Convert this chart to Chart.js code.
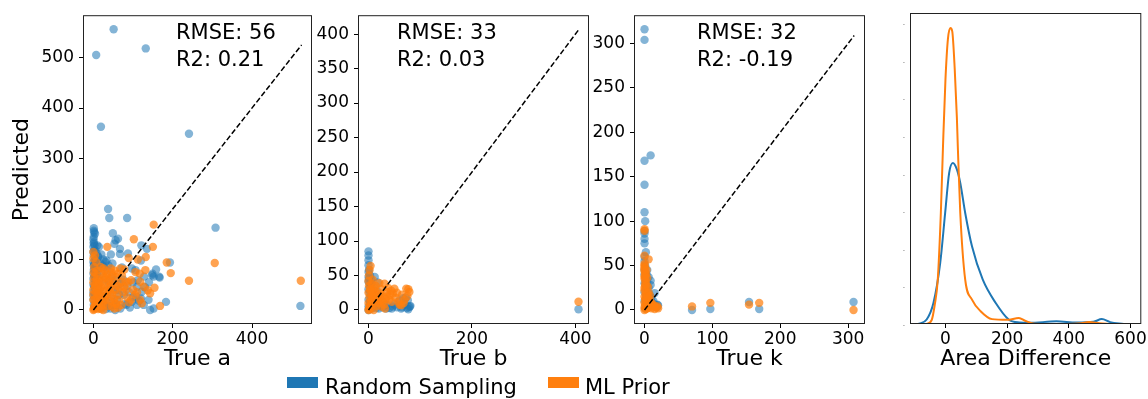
<!DOCTYPE html>
<html>
<head>
<meta charset="utf-8">
<script src="https://cdn.jsdelivr.net/npm/chart.js@4.4.0/dist/chart.umd.min.js"></script>
<style>
  body { margin: 0; background: #fff; width: 1148px; height: 399px; overflow: hidden; position: relative; font-family: "DejaVu Sans", sans-serif; }
  canvas { position: absolute; top: 0; }
  .caja { position: absolute; top: 377px; width: 31px; height: 11px; }
  .etiqueta { position: absolute; top: 377px; font-size: 21px; line-height: 21px; color: #000; white-space: nowrap; }
</style>
</head>
<body>
<canvas id="graf-a" width="318" height="372" style="left:0px"></canvas>
<canvas id="graf-b" width="295" height="372" style="left:300px"></canvas>
<canvas id="graf-k" width="281" height="372" style="left:590px"></canvas>
<canvas id="graf-area" width="278" height="372" style="left:870px"></canvas>

<div class="caja" style="left:287px; background:#1f77b4"></div>
<div class="etiqueta" style="left:325px">Random Sampling</div>
<div class="caja" style="left:548px; background:#ff7f0e"></div>
<div class="etiqueta" style="left:585px">ML Prior</div>

<script>
// Ticks de cada panel
const ticksXa = [0, 200, 400];
const ticksYa = [0, 100, 200, 300, 400, 500];
const ticksXb = [0, 200, 400];
const ticksYb = [0, 50, 100, 150, 200, 250, 300, 350, 400];
const ticksXk = [0, 100, 200, 300];
const ticksYk = [0, 50, 100, 150, 200, 250, 300];
const ticksXarea = [0, 200, 400, 600];
const ticksYarea = [0, 0.001, 0.002, 0.003, 0.004, 0.005, 0.006, 0.007, 0.008];

// Panel "a": [verdadero, predicho]
const aAleatorio = [
  [51, 556], [7, 505], [132, 518], [19, 363], [241, 349], [308, 163], [522, 8],
  [37, 200], [40, 182], [85, 182], [1, 162], [1, 157], [2, 154], [49, 152], [56, 138], [62, 141],
  [53, 131], [1, 134], [1, 131], [3, 128], [10, 128], [14, 125], [67, 121], [67, 111], [121, 128],
  [135, 121], [1, 108], [4, 98], [12, 104], [17, 92], [1, 79], [27, 85], [35, 79], [72, 84],
  [97, 82], [106, 79], [193, 94], [148, 69], [152, 66], [167, 64], [56, 59], [68, 52], [110, 46],
  [122, 36], [77, 30], [97, 16], [110, 10], [120, 23], [127, 10], [139, 20], [143, 0], [152, 3],
  [183, 16], [43, 3], [68, 3], [0, 115], [2, 90], [0, 72], [3, 66], [5, 60], [8, 55], [0, 50],
  [10, 45], [15, 40], [0, 35], [5, 30], [20, 28], [25, 20], [0, 20], [8, 12], [12, 5], [30, 8],
  [35, 15], [45, 25], [50, 40], [40, 50], [28, 60], [18, 70], [60, 20], [80, 12], [90, 35],
  [100, 55], [75, 60], [32, 2], [55, 0], [22, 88], [45, 65], [6, 75], [14, 83], [4, 151],
  [8, 112], [12, 106], [33, 98], [87, 112], [120, 98], [128, 66], [112, 59], [108, 26], [83, 10],
  [58, 10], [17, 4], [149, 72], [166, 66], [0, 140], [1, 145], [0, 125], [2, 118], [0, 95],
  [1, 88], [3, 82], [0, 62], [2, 45], [0, 28], [1, 10], [3, 5], [6, 90], [9, 70], [5, 118],
  [7, 100], [20, 110], [25, 100], [30, 95], [38, 88], [44, 110], [48, 92], [20, 5], [26, 12],
  [40, 8], [50, 10], [62, 40], [65, 30], [85, 48], [92, 5], [100, 25], [115, 18], [130, 45],
  [140, 55], [158, 80]
];
const aPrior = [
  [152, 169], [102, 140], [35, 125], [89, 103], [150, 125], [112, 100], [132, 105], [185, 94],
  [195, 73], [306, 93], [241, 58], [523, 58], [0, 115], [4, 108], [25, 82], [68, 82], [106, 75],
  [117, 72], [131, 79], [95, 59], [77, 46], [81, 56], [118, 56], [127, 46], [154, 44], [137, 39],
  [143, 33], [168, 8], [118, 20], [122, 13], [47, 7], [0, 0], [2, 5], [5, 10], [8, 15], [3, 20],
  [10, 25], [15, 30], [6, 35], [12, 40], [20, 45], [4, 50], [8, 55], [15, 60], [25, 65], [35, 70],
  [45, 75], [2, 65], [5, 72], [10, 78], [18, 85], [0, 40], [0, 30], [0, 20], [0, 55], [25, 10],
  [30, 20], [35, 30], [40, 40], [45, 50], [50, 55], [55, 40], [60, 30], [65, 20], [70, 10],
  [28, 50], [38, 58], [20, 35], [25, 0], [12, 2], [50, 15], [58, 65], [62, 72], [75, 35],
  [85, 25], [90, 15], [100, 40], [105, 30], [110, 35], [1, 2], [3, 8], [6, 4], [9, 9], [14, 12],
  [18, 6], [22, 15], [26, 22], [30, 28], [33, 38], [37, 45], [42, 35], [47, 30], [52, 22],
  [57, 12], [62, 5], [66, 45], [70, 55], [72, 68], [78, 80], [5, 45], [9, 62], [13, 52], [17, 42],
  [21, 56], [24, 72], [29, 78], [32, 64], [40, 62], [44, 82], [48, 68], [54, 78], [2, 85], [7, 95],
  [0, 102], [1, 75], [11, 32], [16, 20], [20, 2], [36, 8], [42, 18], [53, 3], [60, 48], [83, 40],
  [88, 55], [95, 20]
];

// Panel "b"
const bAleatorio = [
  [0, 85], [0, 79], [0, 72], [0, 65], [1, 58], [0, 48], [12, 48], [0, 41], [5, 38], [67, 17],
  [80, 5], [77, 1], [63, 2], [47, 5], [34, 2], [76, 14], [60, 14], [406, 1], [0, 30], [2, 25],
  [4, 20], [0, 15], [6, 10], [10, 5], [15, 3], [20, 2], [8, 30], [3, 35], [12, 18], [25, 6],
  [30, 10], [0, 5], [0, 0], [18, 12], [40, 3], [55, 4], [70, 8], [72, 18], [0, 55], [1, 45],
  [2, 40], [3, 50], [5, 44], [8, 22], [10, 12], [14, 8], [22, 20], [28, 4], [35, 8], [45, 2],
  [50, 8], [65, 4], [78, 4], [81, 6], [74, 3], [3, 12], [6, 2], [16, 28], [18, 40]
];
const bPrior = [
  [406, 12], [4, 64], [21, 39], [31, 38], [50, 31], [73, 31], [79, 26], [47, 24], [60, 8], [63, 7],
  [0, 0], [2, 4], [4, 8], [6, 12], [8, 16], [10, 20], [0, 25], [3, 30], [1, 35], [12, 28],
  [15, 22], [18, 15], [20, 10], [25, 5], [30, 8], [14, 35], [25, 30], [35, 20], [40, 15],
  [45, 12], [55, 25], [65, 22], [70, 15], [0, 10], [5, 2], [10, 0], [32, 2], [68, 10], [75, 20],
  [1, 1], [3, 6], [5, 14], [7, 20], [9, 26], [11, 32], [13, 10], [16, 6], [19, 18], [22, 24],
  [24, 14], [27, 20], [28, 12], [33, 16], [36, 26], [2, 18], [4, 28], [6, 38], [8, 44], [1, 50],
  [0, 42], [2, 58], [38, 32], [42, 22], [52, 18], [58, 12], [77, 30], [44, 28]
];

// Panel "k"
const kAleatorio = [
  [0, 316], [0, 304], [0, 168], [9, 174], [0, 141], [0, 110], [0, 89], [0, 86], [70, 0], [97, 1],
  [154, 9], [169, 1], [308, 9], [6, 37], [9, 28], [15, 19], [19, 6], [0, 60], [1, 50], [0, 40],
  [2, 30], [0, 20], [3, 15], [0, 10], [5, 5], [1, 2], [8, 12], [12, 8], [2, 25], [0, 75], [4, 45],
  [0, 30], [1, 35], [0, 45], [0, 55], [2, 65], [3, 40], [4, 32], [6, 25], [7, 18], [10, 14],
  [13, 10], [16, 6], [18, 3], [20, 5], [1, 100], [0, 80], [9, 33]
];
const kPrior = [
  [0, 91], [0, 89], [0, 61], [6, 57], [0, 48], [0, 44], [70, 4], [97, 8], [154, 6], [169, 8],
  [308, 0], [19, 4], [0, 0], [1, 5], [2, 10], [0, 15], [3, 20], [0, 25], [1, 30], [0, 35],
  [2, 40], [0, 50], [4, 8], [6, 3], [8, 6], [10, 2], [12, 4], [15, 1], [5, 15], [3, 28],
  [0, 52], [1, 38], [0, 3], [0, 8], [1, 12], [2, 18], [0, 22], [1, 27], [2, 33], [0, 38],
  [1, 42], [0, 46], [3, 45], [4, 36], [5, 26], [6, 20], [7, 12], [9, 9], [11, 7], [14, 5],
  [17, 3], [20, 2], [4, 2], [2, 1], [3, 14], [8, 16]
];

// Densidad de la diferencia de área (KDE)
const kdeAleatorio = [
  [-89, 0], [-61, 0.00012], [-39, 0.00056], [-17, 0.00163], [-1, 0.00296], [12, 0.00403],
  [24, 0.00429], [37, 0.00412], [48, 0.00376], [64, 0.00296], [86, 0.00207], [121, 0.00118],
  [163, 0.00056], [205, 0.00012], [240, 0.00004], [272, 0.00003], [360, 0.00007], [425, 0.00004],
  [480, 0.00006], [507, 0.00013], [534, 0.00005], [578, 0]
];
const kdePrior = [
  [-61, 0], [-45, 0.0001], [-35, 0.0005], [-25, 0.00118], [-15, 0.00296], [-8, 0.00474],
  [0, 0.00652], [8, 0.0076], [16, 0.00789], [22, 0.0078], [30, 0.0068], [37, 0.0055],
  [40, 0.00474], [48, 0.00296], [64, 0.00118], [86, 0.00065], [114, 0.00034], [151, 0.00013],
  [200, 0.00011], [238, 0.00016], [260, 0.00008], [290, 0.00001], [392, 0], [440, 0.00002],
  [465, 0.00005], [500, 0.00002], [534, 0]
];

const fuente = "'DejaVu Sans', sans-serif";
const azul = "#1f77b4";
const naranja = "#ff7f0e";

// Marco completo del área y textos RMSE / R2
const marco = {
  id: "marco",
  afterDraw(chart, args, opts) {
    const { ctx, chartArea: a } = chart;
    ctx.save();
    ctx.strokeStyle = "#222";
    ctx.lineWidth = 1;
    ctx.strokeRect(a.left + 0.5, a.top + 0.5, a.right - a.left - 1, a.bottom - a.top - 1);
    if (opts.lineas) {
      ctx.font = "21px " + fuente;
      ctx.fillStyle = "#000";
      ctx.textBaseline = "alphabetic";
      opts.lineas.forEach((t, i) => ctx.fillText(t, a.left + opts.dx, a.top + 24 + i * 26.5));
    }
    ctx.restore();
  },
};
Chart.register(marco);

function puntos(pares) {
  return pares.map(([x, y]) => ({ x, y }));
}

function eje(rango, ticks, titulo, tam, horizontal, tituloPad) {
  return {
    type: "linear",
    min: rango[0],
    max: rango[1],
    afterBuildTicks: (s) => { s.ticks = ticks.map((v) => ({ value: v })); },
    afterFit: (s) => { if (horizontal) s.height = tam; else s.width = tam; },
    border: { display: false },
    grid: { drawOnChartArea: false, drawTicks: true, tickLength: 4, color: "#000" },
    ticks: {
      autoSkip: false,
      maxRotation: 0,
      color: "#000",
      padding: horizontal ? 1 : 5,
      font: { family: fuente, size: 17 },
    },
    title: {
      display: !!titulo,
      text: titulo,
      color: "#000",
      padding: tituloPad || 0,
      font: { family: fuente, size: 22 },
    },
  };
}

function dispersion(id, datosRS, datosML, diag, ejeX, ejeY, textos) {
  const ctx = document.getElementById(id).getContext("2d");
  return new Chart(ctx, {
    type: "scatter",
    data: {
      datasets: [
        {
          type: "line",
          data: [{ x: 0, y: 0 }, { x: diag, y: diag }],
          borderColor: "#000",
          borderWidth: 1.5,
          borderDash: [5.5, 2.5],
          pointRadius: 0,
          order: 0,
        },
        {
          label: "ML Prior",
          data: puntos(datosML),
          backgroundColor: "rgba(255,127,14,0.72)",
          borderWidth: 0,
          pointRadius: 4.2,
          order: 1,
        },
        {
          label: "Random Sampling",
          data: puntos(datosRS),
          backgroundColor: "rgba(31,119,180,0.55)",
          borderWidth: 0,
          pointRadius: 4.2,
          order: 2,
        },
      ],
    },
    options: {
      responsive: false,
      animation: false,
      layout: { padding: { top: 13, right: 6, left: 0, bottom: 0 } },
      plugins: { legend: { display: false }, tooltip: { enabled: false }, marco: textos },
      scales: { x: ejeX, y: ejeY },
    },
  });
}

dispersion("graf-a", aAleatorio, aPrior, 525,
  eje([-26.25, 551.25], ticksXa, "True a", 48, true),
  eje([-27.8, 583.8], ticksYa, "Predicted", 83, false, { top: 9 }),
  { lineas: ["RMSE: 56", "R2: 0.21"], dx: 93 });

dispersion("graf-b", bAleatorio, bPrior, 407,
  eje([-20.3, 426.3], ticksXb, "True b", 48, true),
  eje([-20.3, 427.4], ticksYb, "", 58, false),
  { lineas: ["RMSE: 33", "R2: 0.03"], dx: 39 });

dispersion("graf-k", kAleatorio, kPrior, 309,
  eje([-15.5, 324.9], ticksXk, "True k", 48, true),
  eje([-15.8, 331.8], ticksYk, "", 44, false),
  { lineas: ["RMSE: 32", "R2: -0.19"], dx: 63 });

// Panel de densidades
const ejeYarea = eje([0, 0.00829], ticksYarea, "", 40, false);
ejeYarea.ticks.font = { family: fuente, size: 6 };
ejeYarea.ticks.callback = () => ".";
ejeYarea.grid.tickLength = 0;

new Chart(document.getElementById("graf-area").getContext("2d"), {
  type: "line",
  data: {
    datasets: [
      {
        label: "ML Prior",
        data: puntos(kdePrior),
        borderColor: naranja,
        borderWidth: 2,
        pointRadius: 0,
        cubicInterpolationMode: "monotone",
        order: 0,
      },
      {
        label: "Random Sampling",
        data: puntos(kdeAleatorio),
        borderColor: azul,
        borderWidth: 2,
        pointRadius: 0,
        cubicInterpolationMode: "monotone",
        order: 1,
      },
    ],
  },
  options: {
    responsive: false,
    animation: false,
    layout: { padding: { top: 13, right: 6, left: 0, bottom: 0 } },
    plugins: { legend: { display: false }, tooltip: { enabled: false }, marco: {} },
    scales: {
      x: eje([-115, 635], ticksXarea, "Area Difference", 48, true),
      y: ejeYarea,
    },
  },
});
</script>
</body>
</html>
